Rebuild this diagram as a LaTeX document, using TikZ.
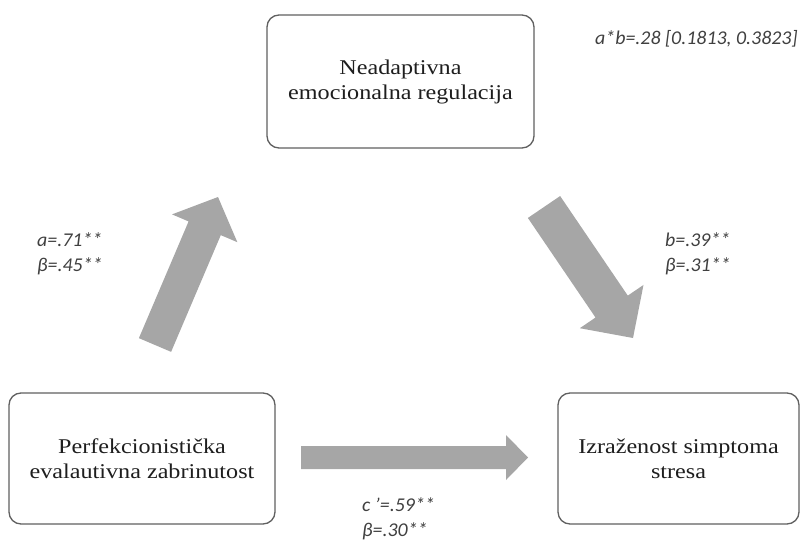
\documentclass[tikz,border=0pt]{standalone}
\usepackage{fontspec}
\usetikzlibrary{calc}
\newfontfamily\boxfont[FakeStretch=1.15]{Liberation Serif}
\newfontfamily\labfont[FakeStretch=1.02]{Carlito}
\definecolor{arrowgray}{HTML}{A6A6A6}
\definecolor{boxline}{HTML}{606060}
\definecolor{boxtext}{HTML}{1E1E1E}
\definecolor{labtext}{HTML}{404040}
\newcommand{\blockarrow}[6]{% #1 name, #2 tail, #3 tip, #4 half shaft, #5 half head, #6 head length
  \coordinate (#1base) at ($(#3)!#6!(#2)$);
  \fill[arrowgray] ($(#2)!#4!90:(#3)$) -- ($(#1base)!#4!-90:(#2)$) -- ($(#1base)!#5!-90:(#2)$) -- (#3)
    -- ($(#1base)!#5!90:(#2)$) -- ($(#1base)!#4!90:(#2)$) -- ($(#2)!#4!-90:(#3)$) -- cycle;
}
\begin{document}
\begin{tikzpicture}[x=1pt,y=-1pt,
  varbox/.style={draw=boxline, line width=1.3pt, rounded corners=12pt, fill=white,
    align=center, text=boxtext, inner sep=0pt,
    font=\boxfont\fontsize{21}{25}\selectfont},
  coef/.style={align=left, anchor=west, inner sep=0pt, text=labtext,
    font=\labfont\itshape\fontsize{19.5}{24.5}\selectfont}]
\useasboundingbox (0,0) rectangle (808,540);
% boxes
\node[varbox, minimum width=267pt, minimum height=133pt] (med) at (400.5,81.5)
  {Neadaptivna\\emocionalna regulacija};
\node[varbox, minimum width=266pt, minimum height=131pt] (pred) at (142,458.5)
  {Perfekcionistička\\evalautivna zabrinutost};
\node[varbox, minimum width=241pt, minimum height=131pt] (out) at (678.5,458.5)
  {Izraženost simptoma\\stresa};
% arrow end points
\coordinate (aT) at (155,345);
\coordinate (aP) at (218,197);
\coordinate (bT) at (544,207);
\coordinate (bP) at (633,338);
\coordinate (cT) at (301,457.5);
\coordinate (cP) at (528,457.5);
\blockarrow{a}{aT}{aP}{17.5pt}{35.5pt}{34pt}
\blockarrow{b}{bT}{bP}{19.5pt}{38.5pt}{38pt}
\blockarrow{c}{cT}{cP}{11.5pt}{22.5pt}{22pt}
% coefficients
\node[coef] (ab) at (595,39) {a*b=.28 [0.1813, 0.3823]};
\node[coef] (alab) at (37,254) {a=.71**\\β=.45**};
\node[coef] (blab) at (665,254) {b=.39**\\β=.31**};
\node[coef] (clab) at (362,519) {c ’=.59**\\β=.30**};
\end{tikzpicture}
\end{document}
